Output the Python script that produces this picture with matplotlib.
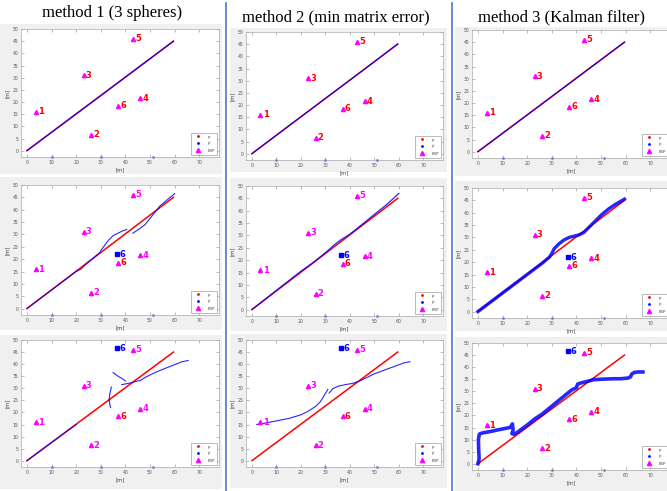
import matplotlib
matplotlib.use("Agg")
import matplotlib.pyplot as plt
from matplotlib.patches import Rectangle
from matplotlib.lines import Line2D

# ---- data ----
titles = ["method 1 (3 spheres)", "method 2 (min matrix error)", "method 3 (Kalman filter)"]

esp_x = [3.5, 26, 23, 46, 43, 37]
esp_y = [16, 6.5, 31, 21.5, 46, 18.5]
esp_names = ["1", "2", "3", "4", "5", "6"]

# true path p (start / end)
p_x = [0, 59.5]
p_y = [0, 45]

# small blue marks sitting on the bottom edge
base_x = [10, 30, 51]

# mobile anchor "6" (blue square), per row
mob6 = [None, (36.5, 22), (36.5, 46.5)]

# estimated paths p-hat: est[row][col] = list of segments [(xs, ys), ...]
est = [
    [  # row 1
        [([0, 15, 30, 45, 59.5], [0, 11.3, 22.6, 34, 45])],
        [([0, 15, 30, 45, 59.5], [0, 11.4, 22.7, 34, 45.1])],
        [([0, 15, 30, 45, 59.5], [0, 11.3, 22.6, 34, 45])],
    ],
    [  # row 2
        [([0, 10, 20, 22, 24, 27, 30], [0, 7.5, 15, 16, 18, 20.5, 23]),
         ([30, 31.5, 33, 35, 37, 39, 40.5], [23.5, 25.5, 27.5, 29.5, 30.5, 31.5, 32]),
         ([43, 46, 48, 50, 52, 54, 57, 60], [30.5, 32.5, 34, 36.5, 39, 41.5, 44, 46.5])],
        [([0, 20, 25, 30, 34, 36, 40, 45, 50, 55, 60],
          [0, 15.5, 19, 23, 26.5, 28, 30.5, 34.5, 38.5, 42.5, 47])],
        [([0, 10, 20, 26, 29, 30, 31, 33, 35, 37, 39, 41, 43, 45, 47, 50, 53, 56, 59.5],
          [0, 7.5, 15, 19.5, 22, 23.5, 25.5, 27.5, 29, 30, 30.5, 31, 32, 34, 36, 39, 41.5, 43.5, 45.5])],
    ],
    [  # row 3
        [([0, 10, 20], [0, 7.5, 15]),
         ([34.3, 33.7, 33.4, 33.6, 34], [30.5, 28, 25.5, 23.5, 22]),
         ([35, 37, 39, 40], [36.5, 35, 33.8, 33]),
         ([38.5, 40, 42, 44, 46, 48, 52, 56, 60, 63, 65.5],
          [31.5, 31.8, 32.2, 32.8, 33.2, 34.5, 36.5, 38.2, 39.8, 41, 41.5])],
        [([2, 5, 10, 15, 20, 23, 26, 28, 29.5, 31],
          [15, 15.5, 16.5, 17.5, 19, 20.5, 22.5, 24.5, 27, 29.5]),
         ([31.5, 33, 35, 38, 41, 44, 47, 50, 54, 58, 62, 64.5],
          [28, 29.8, 30.8, 31.5, 32, 33, 34.5, 36, 37.5, 39, 40.5, 41])],
        [([0, 0.5, 0.3, 0.2, 0.6, 2, 5, 8, 12, 13, 13.5, 14, 14.3, 13.8, 14.5, 16, 18, 20, 23, 26,
           29, 32, 35, 38, 40, 40.5, 42, 44, 47, 50, 55, 58, 61, 62, 62.5, 63.5, 65, 67],
          [0, 2, 6, 10, 12.3, 12.8, 13.3, 14, 14.8, 15, 15.5, 16.5, 14, 12.5, 12.2, 13, 14.5, 16,
           18.5, 20.5, 23, 25.5, 28, 30.5, 31.5, 33, 33.5, 34, 34.8, 35, 35.2, 35.2, 35.5, 36,
           37.2, 37.8, 38, 38])],
    ],
]
est_lw = [[0.9, 0.9, 0.9], [0.8, 0.9, 2.4], [0.8, 0.8, 2.6]]
# label colour of anchors 1-5 per panel (anchor 6 always red)
lab_col = [["red", "red", "red"], ["magenta", "magenta", "red"], ["magenta", "magenta", "red"]]

# ---- layout (pixels) ----
W, H = 667, 491
ax_left = [21, 246, 472]
ax_width = [198, 197, 198]
ax_top = [[29, 32, 30], [185, 186, 188], [340, 340, 343]]
ax_h = [128, 130, 127]
panel_x = [(0, 222), (230, 447), (455, 667)]
panel_y = [[(24, 174), (177, 330), (335, 489)],
           [(28, 172), (178, 331), (334, 488)],
           [(27, 176), (181, 331), (337, 491)]]

fig = plt.figure(figsize=(W / 100, H / 100), dpi=100)
fig.patch.set_facecolor("white")

for c in range(3):
    for r in range(3):
        x0, x1 = panel_x[c]
        y0, y1 = panel_y[c][r]
        fig.add_artist(Rectangle((x0 / W, 1 - y1 / H), (x1 - x0) / W, (y1 - y0) / H,
                                 transform=fig.transFigure, facecolor="#f0f0f0",
                                 edgecolor="none", zorder=-5))

for xs in [226, 452]:
    fig.add_artist(Line2D([xs / W, xs / W], [0, 1 - 3 / H], transform=fig.transFigure,
                          color="#4a78cc", lw=1.2, zorder=5))

title_x = [112, 336, 561]
title_y = [13, 17, 17]
for c in range(3):
    fig.text(title_x[c] / W, 1 - title_y[c] / H, titles[c], ha="center", va="center",
             fontsize=12, family="Liberation Serif")

for r in range(3):
    for c in range(3):
        l, t, w, h = ax_left[c], ax_top[r][c], ax_width[c], ax_h[r]
        ax = fig.add_axes([l / W, 1 - (t + h) / H, w / W, h / H])
        ax.set_facecolor("white")
        ax.set_xlim(-2.4, 78)
        ax.set_ylim(-2.6, 50)
        ax.set_xticks(range(0, 71, 10))
        ax.set_yticks(range(0, 51, 5))
        ax.tick_params(direction="in", length=2, width=0.4, color="#888", labelsize=3.3,
                       labelcolor="#555", pad=2, top=True, right=True)
        for s in ax.spines.values():
            s.set_color("#aaa")
            s.set_linewidth(0.5)
        ax.set_xlabel("[m]", fontsize=3.8, color="#444", labelpad=1.5)
        ax.set_ylabel("[m]", fontsize=3.8, color="#444", labelpad=1.5)

        # true path
        ax.plot(p_x, p_y, color="red", lw=1.1, zorder=2)
        # estimate
        for xs, ys in est[r][c]:
            ax.plot(xs, ys, color="blue", lw=est_lw[r][c], alpha=0.85, zorder=3)
        ax.plot(base_x, [-2.6] * 3, ls="none", marker="s", ms=0.9, color="#6f86d6",
                clip_on=False, zorder=4)

        # anchors
        ax.plot(esp_x, esp_y, ls="none", marker="^", ms=3, color="magenta", zorder=4)
        for i in range(6):
            col = "red" if i == 5 else lab_col[r][c]
            ax.text(esp_x[i] + 0.9, esp_y[i], esp_names[i], color=col, fontsize=6,
                    fontweight="bold", ha="left", va="center", zorder=5)
        if mob6[r] is not None:
            mx, my = mob6[r]
            ax.plot([mx], [my], ls="none", marker="s", ms=2.6, color="blue", zorder=4)
            ax.text(mx + 0.9, my, "6", color="blue", fontsize=6, fontweight="bold",
                    ha="left", va="center", zorder=5)

        handles = [Line2D([], [], ls="none", marker=".", ms=2, color="red"),
                   Line2D([], [], ls="none", marker=".", ms=2, color="blue"),
                   Line2D([], [], ls="none", marker="^", ms=3, color="magenta")]
        leg = ax.legend(handles, ["p", r"$\hat{p}$", "ESP"], loc="lower right", fontsize=2.8,
                        fancybox=False, edgecolor="#888", framealpha=1, borderpad=0.5,
                        handlelength=3.0, labelspacing=0.25, borderaxespad=0.6,
                        handletextpad=0.8)
        leg.get_frame().set_linewidth(0.4)
        for txt in leg.get_texts():
            txt.set_color("#444")

fig.savefig("out.png", dpi=100)
